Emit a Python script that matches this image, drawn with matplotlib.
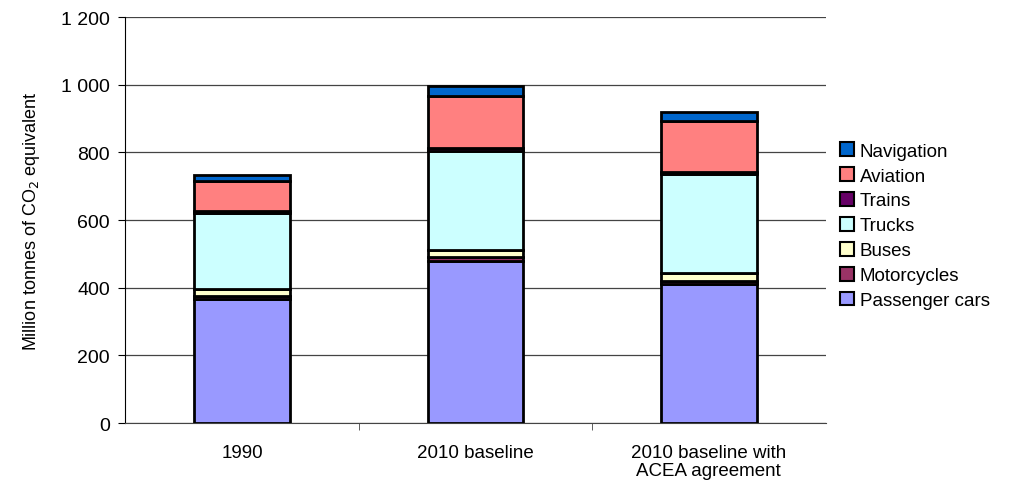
import numpy as np
import matplotlib
matplotlib.use("Agg")
import matplotlib.pyplot as plt

plt.rcParams['font.family'] = ['Liberation Sans', 'DejaVu Sans']

categories = ["1990", "2010 baseline", "2010 baseline with\nACEA agreement"]
sectors = ["Passenger cars", "Motorcycles", "Buses", "Trucks", "Trains", "Aviation", "Navigation"]
passenger_cars = [368, 480, 410]
motorcycles = [7, 10, 10]
buses = [20, 22, 23]
trucks = [225, 292, 294]
trains = [7, 8, 6]
aviation = [87, 155, 150]
navigation = [20, 28, 25]
colors = ["#9999FF", "#993366", "#FFFFCC", "#CCFFFF", "#660066", "#FF8080", "#0066CC"]

series = [passenger_cars, motorcycles, buses, trucks, trains, aviation, navigation]

fig = plt.figure(figsize=(10.18, 4.81), dpi=100)
ax = fig.add_axes([0.123, 0.1185, 0.688, 0.844])

x = np.arange(len(categories))
bottom = np.zeros(len(categories))
handles = []
for name, vals, col in zip(sectors, series, colors):
    b = ax.bar(x, vals, 0.41, bottom=bottom, color=col, edgecolor="black",
               linewidth=2.0, label=name, zorder=3)
    handles.append(b)
    bottom += np.array(vals)

ax.set_xlim(-0.5, 2.5)
ax.set_ylim(0, 1200)
ax.set_yticks(range(0, 1201, 200))
ax.set_yticklabels(["0", "200", "400", "600", "800", "1 000", "1 200"])
ax.yaxis.grid(True, color="#444444", linewidth=0.9, zorder=0)
ax.set_xticks(x)
ax.set_xticklabels(categories, fontsize=13.5, linespacing=1.08)
ax.set_xticks([0.5, 1.5], minor=True)
ax.tick_params(axis="x", which="major", length=0, pad=15)
ax.tick_params(axis="x", which="minor", length=5, color="#444444")
ax.tick_params(axis="y", labelsize=14, length=5, direction="out", pad=6)
for s in ["top", "right"]:
    ax.spines[s].set_visible(False)
ax.spines["bottom"].set_color("#444444")
ax.set_ylabel("Million tonnes of CO$_2$ equivalent", fontsize=13, labelpad=14)

leg = ax.legend(handles[::-1], sectors[::-1], loc="upper left", bbox_to_anchor=(1.01, 0.71),
                frameon=False, fontsize=13.5, handlelength=0.75, handleheight=0.75,
                handletextpad=0.3, labelspacing=0.4, borderaxespad=0)
for h in leg.legend_handles:
    h.set_linewidth(1.5)

fig.savefig("out.png", dpi=100)
